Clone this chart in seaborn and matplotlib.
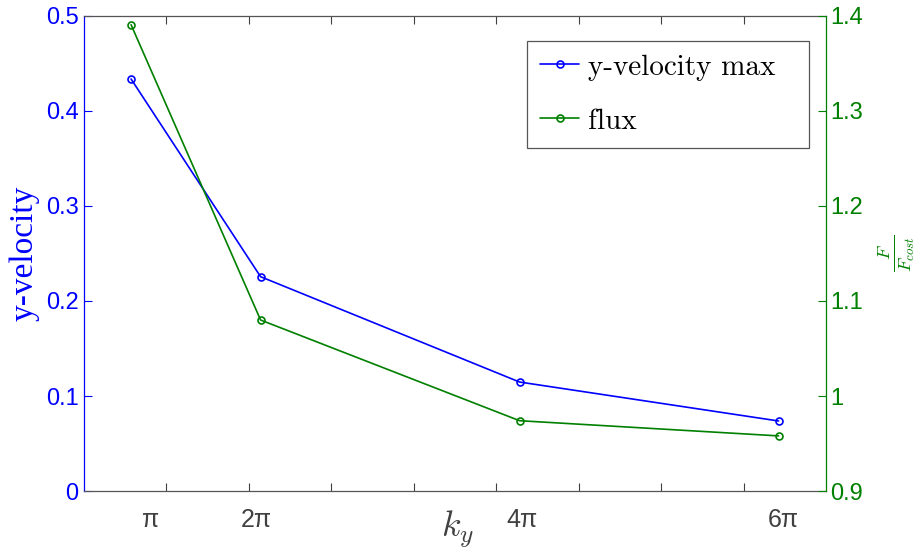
import numpy as np
import pandas as pd
import matplotlib
matplotlib.use("Agg")
import matplotlib.pyplot as plt
import seaborn as sns

# ---- data ----
ky = [np.pi, 2 * np.pi, 4 * np.pi, 6 * np.pi]
yvel_max = [0.4337, 0.2256, 0.1147, 0.0737]
flux = [1.3908, 1.0800, 0.9740, 0.9580]
series_labels = ["y-velocity max", "flux"]
xtick_labels = ["π", "2π", "4π", "6π"]
xtick_label_pos = [3.60, 6.17, 12.63, 18.96]
yticks_left = [0, 0.1, 0.2, 0.3, 0.4, 0.5]
ytick_labels_left = ["0", "0.1", "0.2", "0.3", "0.4", "0.5"]
yticks_right = [0.9, 1.0, 1.1, 1.2, 1.3, 1.4]
ytick_labels_right = ["0.9", "1", "1.1", "1.2", "1.3", "1.4"]

sns.set_style("white")
plt.rcParams["mathtext.fontset"] = "cm"
plt.rcParams["font.family"] = ["Liberation Sans", "DejaVu Sans"]

BLUE = (0, 0, 1)
GREEN = (0, 0.5, 0)
GRAY = "#404040"

df1 = pd.DataFrame({"ky": ky, "v": yvel_max})
df2 = pd.DataFrame({"ky": ky, "f": flux})

fig = plt.figure(figsize=(9.18, 5.53), dpi=100)
ax = fig.add_axes([0.0915, 0.1121, 0.8083, 0.8590])
ax2 = ax.twinx()

sns.lineplot(data=df1, x="ky", y="v", ax=ax, color=BLUE, lw=1.2,
             marker="o", markersize=5, markerfacecolor="none",
             markeredgecolor=BLUE, markeredgewidth=1.2, legend=False)
sns.lineplot(data=df2, x="ky", y="f", ax=ax2, color=GREEN, lw=1.2,
             marker="o", markersize=5, markerfacecolor="none",
             markeredgecolor=GREEN, markeredgewidth=1.2, legend=False)

ax.set_xlim(2, 20)
ax.set_ylim(0, 0.5)
ax2.set_ylim(0.9, 1.4)

# x axis: labels (no tick marks) and minor marks
ax.set_xticks(xtick_label_pos)
ax.set_xticklabels(xtick_labels, fontsize=18, color=GRAY)
ax.tick_params(axis="x", which="major", length=0, pad=12)
ax.set_xticks(np.arange(4, 19, 2), minor=True)
ax.tick_params(axis="x", which="minor", direction="in", length=6, width=0.8,
               color=GRAY, top=True, bottom=True)

# left y axis
ax.set_yticks(yticks_left)
ax.set_yticklabels(ytick_labels_left)
ax.tick_params(axis="y", direction="in", length=6, width=0.8, color=BLUE,
               labelcolor=BLUE, labelsize=17, pad=4)

# right y axis
ax2.set_yticks(yticks_right)
ax2.set_yticklabels(ytick_labels_right)
ax2.tick_params(axis="y", direction="in", length=6, width=0.8, color=GREEN,
                labelcolor=GREEN, labelsize=17, pad=3)

for s in ["top", "bottom"]:
    ax.spines[s].set_color("#555555")
    ax.spines[s].set_linewidth(0.9)
ax.spines["left"].set_color(BLUE)
ax.spines["left"].set_linewidth(0.9)
ax.spines["right"].set_visible(False)
for s in ["top", "bottom", "left"]:
    ax2.spines[s].set_visible(False)
ax2.spines["right"].set_color(GREEN)
ax2.spines["right"].set_linewidth(0.9)

ax.set_xlabel(r"$k_y$", fontsize=26, color=GRAY, va="center")
ax.xaxis.set_label_coords(0.504, -0.080)
ax.set_ylabel("y-velocity", family=["Liberation Serif", "DejaVu Serif"],
              fontsize=24, color=BLUE, va="center")
ax.yaxis.set_label_coords(-0.080, 0.5)
ax2.set_ylabel(r"$\frac{F}{F_{cost}}$", fontsize=19, color=GREEN,
               rotation=90, va="center")
ax2.yaxis.set_label_coords(1.0945, 0.5)

handles = [ax.get_lines()[0], ax2.get_lines()[0]]
leg = ax2.legend(handles, series_labels, loc="upper left",
                 bbox_to_anchor=(0.5970, 0.7242, 0.3801, 0.2232), mode="expand",
                 borderaxespad=0, prop={"family": ["cmr10", "DejaVu Serif"], "size": 21},
                 handlelength=1.35, handletextpad=0.3, borderpad=0.45,
                 labelspacing=0.95, fancybox=False, framealpha=1,
                 labelcolor="black")
leg.get_frame().set_edgecolor("#555555")
leg.get_frame().set_linewidth(0.9)

fig.savefig("out.png", dpi=100)
